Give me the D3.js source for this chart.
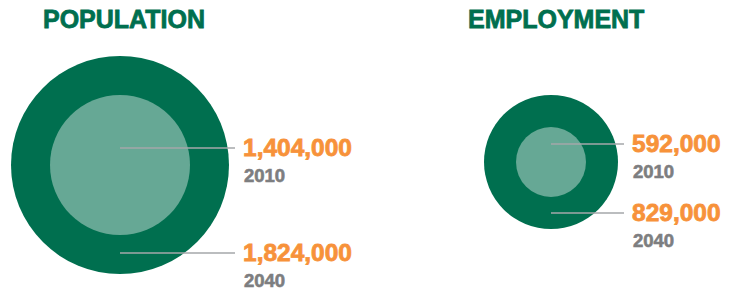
<!DOCTYPE html>
<html>
<head>
  <meta charset="utf-8" />
  <script src="https://d3js.org/d3.v7.min.js"></script>
  <style>
    body { margin: 0; background: #fff; }
    text { font-family: "Liberation Sans", Arial, sans-serif; font-weight: bold; }
  </style>
</head>
<body>
  <svg id="chart" width="729" height="292"></svg>
  <script>
    // values
    const titles = ["POPULATION", "EMPLOYMENT"];
    const years = ["2010", "2040"];
    const population = [1404000, 1824000];
    const employment = [592000, 829000];

    const dark = "#006f4f";
    const light = "#66a895";
    const orange = "#f7923a";
    const grey = "#7d7e80";
    const leader = "#a5a7aa";

    const svg = d3.select("#chart");
    const fmt = d3.format(",");

    // layout for each panel (circles are not drawn to area scale in the original)
    const panels = [
      { title: titles[0], values: population, titleX: 43, cx: 120, cy: 165, r: [70, 109], labelX: 243, lineY: [-17, 88] },
      { title: titles[1], values: employment, titleX: 468, cx: 551, cy: 162, r: [35, 67], labelX: 632, lineY: [-18, 51] }
    ];

    panels.forEach(p => {
      const g = svg.append("g");
      const rScale = d3.scaleLinear().domain(p.values).range(p.r);

      g.append("text")
        .attr("x", p.titleX)
        .attr("y", 28)
        .attr("font-size", 25)
        .attr("fill", dark)
        .attr("stroke", dark)
        .attr("stroke-width", 0.8)
        .text(p.title);

      // bigger (2040) first, then 2010 on top
      g.selectAll("circle")
        .data(p.values.map((v, i) => ({ v, i })).reverse())
        .join("circle")
        .attr("cx", p.cx)
        .attr("cy", p.cy)
        .attr("r", d => rScale(d.v))
        .attr("fill", d => d.i === 0 ? light : dark);

      p.values.forEach((v, i) => {
        const y = p.cy + p.lineY[i];
        g.append("line")
          .attr("x1", p.cx)
          .attr("x2", p.labelX - 8)
          .attr("y1", y)
          .attr("y2", y)
          .attr("stroke", leader)
          .attr("stroke-width", 1.5);

        g.append("text")
          .attr("x", p.labelX)
          .attr("y", y + 8)
          .attr("font-size", 24.5)
          .attr("fill", orange)
          .attr("stroke", orange)
          .attr("stroke-width", 0.8)
          .text(fmt(v));

        g.append("text")
          .attr("x", p.labelX + 1)
          .attr("y", y + 34)
          .attr("font-size", 18.5)
          .attr("fill", grey)
          .attr("stroke", grey)
          .attr("stroke-width", 0.6)
          .text(years[i]);
      });
    });
  </script>
</body>
</html>
